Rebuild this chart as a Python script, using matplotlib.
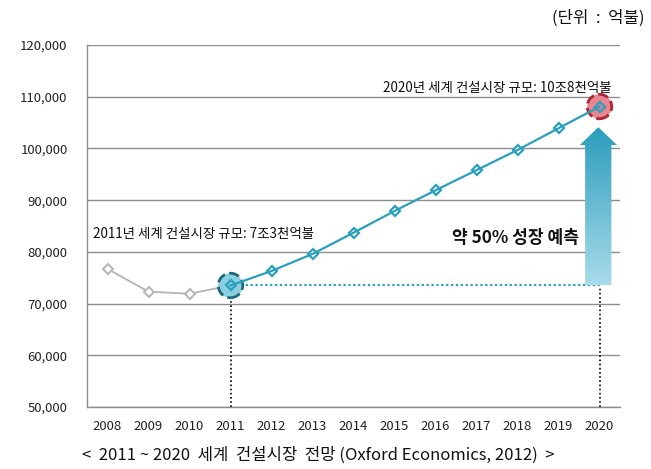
import numpy as np
import matplotlib
matplotlib.use("Agg")
import matplotlib.pyplot as plt
from matplotlib.patches import Polygon
from matplotlib.colors import LinearSegmentedColormap

plt.rcParams['font.family'] = ['Noto Sans CJK KR', 'DejaVu Sans']

# data (억불)
years = ['2008', '2009', '2010', '2011', '2012', '2013', '2014',
         '2015', '2016', '2017', '2018', '2019', '2020']
past_values = [76700, 72300, 71900, 73500]           # 2008-2011
forecast_values = [73500, 76300, 79600, 83700, 87900,
                   91900, 95800, 99700, 103900, 108100]  # 2011-2020
y_ticks = [50000, 60000, 70000, 80000, 90000, 100000, 110000, 120000]

gray = '#b4b4b4'
teal = '#2a9fbe'

fig = plt.figure(figsize=(6.51, 4.69), dpi=100)
ax = fig.add_axes([87 / 651, 1 - 407 / 469, 533 / 651, 362 / 469])

x = np.arange(len(years))
x_past = x[:4]
x_fore = x[3:]

ax.plot(x_past, past_values, color=gray, lw=1.3, marker='D', ms=5,
        mfc='white', mec=gray, mew=1.4, zorder=3)
ax.plot(x_fore, forecast_values, color=teal, lw=1.6, marker='D', ms=5,
        mfc='none', mec=teal, mew=1.6, zorder=6)

# highlight circles (under the line so the markers stay visible)
ax.scatter([x_fore[0]], [forecast_values[0]], s=310, c='#8ccfe0',
           edgecolors='#1d6b7d', linewidths=2, linestyle='--', zorder=5)
ax.scatter([x_fore[-1]], [forecast_values[-1]], s=310, c='#e8868f',
           edgecolors='#b02433', linewidths=2, linestyle='--', zorder=5)
# white marker faces for the plain points
ax.plot(x_fore[1:-1], forecast_values[1:-1], ls='none', marker='D', ms=5,
        mfc='white', mec='none', zorder=5.5)

# dotted guide lines
base = forecast_values[0]
ax.plot([x_fore[0], x_fore[-1]], [base, base], color=teal, lw=1.6,
        ls=(0, (1, 1.2)), zorder=2)
ax.plot([x_fore[0], x_fore[0]], [50000, base], color='black', lw=1.2,
        ls=(0, (1, 1.5)), zorder=2)
ax.plot([x_fore[-1], x_fore[-1]], [50000, base - 500], color='black', lw=1.2,
        ls=(0, (1, 1.5)), zorder=2)

# gradient arrow
bx0, bx1 = 11.65, 12.29
hx0, hx1 = 11.52, 12.43
tip_y, head_y = 104100, 100650
poly = Polygon([(bx0, base), (bx0, head_y), (hx0, head_y), ((bx0 + bx1) / 2, tip_y),
                (hx1, head_y), (bx1, head_y), (bx1, base)], closed=True,
               facecolor='none', edgecolor='none')
ax.add_patch(poly)
cmap = LinearSegmentedColormap.from_list('arr', ['#a8dcea', '#2a9cbc'])
grad = np.linspace(0, 1, 256).reshape(-1, 1)
im = ax.imshow(grad, cmap=cmap, origin='lower', aspect='auto',
               extent=[hx0, hx1, base, tip_y], zorder=3)
im.set_clip_path(poly)

# annotations
ax.text(-0.35, 83400, '2011년 세계 건설시장 규모: 7조3천억불', fontsize=9.7,
        color='#111111', va='center', ha='left')
ax.text(12.3, 111700, '2020년 세계 건설시장 규모: 10조8천억불', fontsize=9.7,
        color='#111111', va='center', ha='right')
ax.text(11.5, 82600, '약 50% 성장 예측', fontsize=12.3, fontweight='bold',
        color='#111111', va='center', ha='right')

ax.set_xlim(-0.5, len(years) - 0.5)
ax.set_ylim(50000, 120000)
ax.set_xticks(x)
ax.set_xticklabels(years)
ax.set_yticks(y_ticks)
ax.set_yticklabels([f'{v:,}' for v in y_ticks])
ax.tick_params(length=0, labelsize=9.5, colors='#222222')
ax.tick_params(axis='x', pad=9)
ax.tick_params(axis='y', pad=14)
ax.grid(axis='y', color='#8c8c8c', lw=1)
ax.set_axisbelow(True)
for s in ['top', 'right']:
    ax.spines[s].set_visible(False)
for s in ['left', 'bottom']:
    ax.spines[s].set_color('#8c8c8c')
    ax.spines[s].set_linewidth(1)

fig.text(645 / 651, 1 - 18 / 469, '(단위  :  억불)', fontsize=12,
         ha='right', va='center', color='#111111', fontweight='light')
fig.text(318 / 651, 1 - 455 / 469,
         '<  2011 ~ 2020  세계  건설시장  전망 (Oxford Economics, 2012)  >',
         fontsize=12, ha='center', va='center', color='#111111',
         fontweight='light')

fig.savefig('out.png', dpi=100)
